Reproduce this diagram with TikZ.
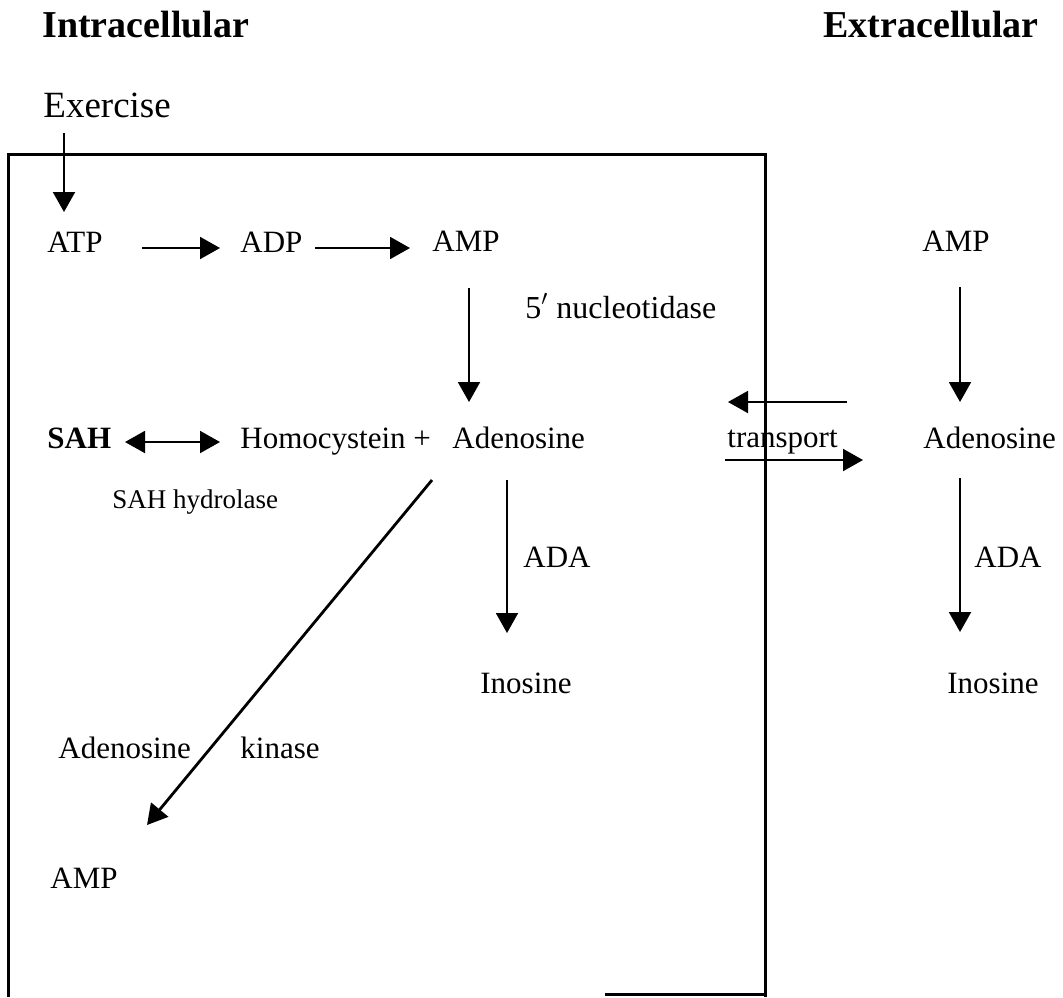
\documentclass[tikz,border=0pt]{standalone}
\usepackage{fontspec}
\setmainfont{Liberation Serif}
\usetikzlibrary{arrows.meta}
\tikzset{
  txt/.style={anchor=base west, inner sep=0pt, font=\fontsize{15.5}{18}\selectfont},
  btxt/.style={txt, font=\fontsize{15.5}{18}\selectfont\bfseries},
  head/.style={anchor=base west, inner sep=0pt, font=\fontsize{19}{22}\selectfont\bfseries},
  small/.style={txt, font=\fontsize{13.5}{16}\selectfont},
  arr/.style={line width=1pt, -{Triangle[length=10pt,width=11pt]}},
  darr/.style={line width=1pt, {Triangle[length=10pt,width=11pt]}-{Triangle[length=10pt,width=11pt]}},
  cell/.style={line width=1.5pt}
}
\begin{document}
\begin{tikzpicture}[x=0.5pt,y=-0.5pt]
\useasboundingbox (0,0) rectangle (1063,997);
% cell membrane box
\draw[cell] (8,997) -- (8,154) -- (765,154) -- (765,997);
\draw[cell] (605,994) -- (765,994);
% headings
\node[head] (intra) at (42,37) {Intracellular};
\node[head] (extra) at (823,37) {Extracellular};
\node[txt, font=\fontsize{18.5}{22}\selectfont] (exer) at (43,117) {Exercise};
% intracellular
\node[txt] (atp) at (47,252) {ATP};
\node[txt] (adp) at (240,252) {ADP};
\node[txt] (amp1) at (432,251) {AMP};
\node[txt, font=\fontsize{16}{18}\selectfont] (nuc) at (525,318) {5$'$ nucleotidase};
\node[btxt] (sah) at (47,448) {SAH};
\node[txt] (homo) at (240,448) {Homocystein +};
\node[txt] (ado1) at (452,448) {Adenosine};
\node[small] (sahh) at (112,508) {SAH hydrolase};
\node[txt] (ada1) at (523,567) {ADA};
\node[txt] (ino1) at (480,693) {Inosine};
\node[txt] (adk) at (58,758) {Adenosine};
\node[txt] (kin) at (240,758) {kinase};
\node[txt] (amp3) at (50,888) {AMP};
% transport
\node[txt] (transp) at (727,447) {transport};
% extracellular
\node[txt] (amp2) at (922,251) {AMP};
\node[txt] (ado2) at (923,448) {Adenosine};
\node[txt] (ada2) at (974,567) {ADA};
\node[txt] (ino2) at (947,693) {Inosine};
% arrows
\draw[arr] ([shift={(21,16)}]exer.base west) -- ([shift={(17,-40)}]atp.base west);
\draw[arr] ([shift={(95,-4)}]atp.base west) -- ([shift={(-20,-4)}]adp.base west);
\draw[arr] ([shift={(75,-4)}]adp.base west) -- ([shift={(-22,-3)}]amp1.base west);
\draw[arr] ([shift={(37,37)}]amp1.base west) -- ([shift={(17,-46)}]ado1.base west);
\draw[darr] ([shift={(78,-6)}]sah.base west) -- ([shift={(-20,-6)}]homo.base west);
\draw[arr] ([shift={(55,32)}]ado1.base west) -- ([shift={(27,-60)}]ino1.base west);
\draw[arr, line width=1.4pt] ([shift={(-20,32)}]ado1.base west) -- ([shift={(97,-63)}]amp3.base west);
\draw[arr] ([shift={(120,-45)}]transp.base west) -- ([shift={(1,-45)}]transp.base west);
\draw[arr] ([shift={(-2,13)}]transp.base west) -- ([shift={(136,13)}]transp.base west);
\draw[arr] ([shift={(38,36)}]amp2.base west) -- ([shift={(37,-46)}]ado2.base west);
\draw[arr] ([shift={(37,30)}]ado2.base west) -- ([shift={(13,-61)}]ino2.base west);
\end{tikzpicture}
\end{document}
